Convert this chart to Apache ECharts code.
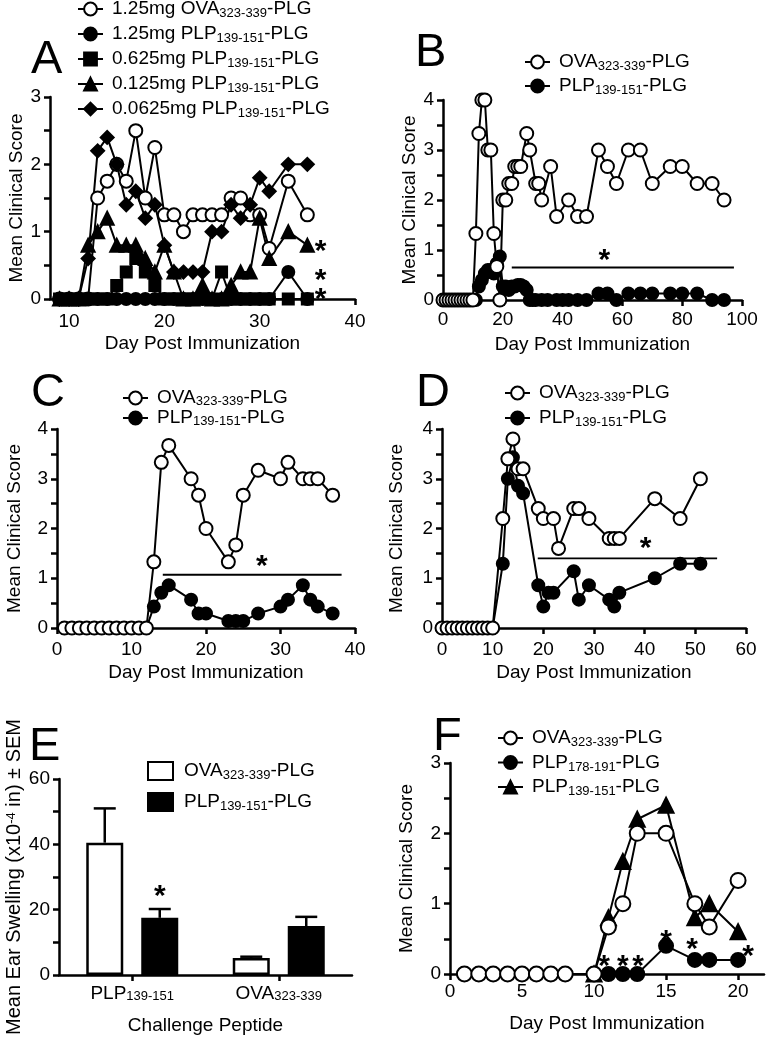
<!DOCTYPE html>
<html>
<head>
<meta charset="utf-8">
<script src="https://cdn.jsdelivr.net/npm/echarts@6/dist/echarts.min.js"></script>
<style>
html, body { margin: 0; padding: 0; background: #fff; }
#chart { width: 769px; height: 1039px; }
</style>
</head>
<body>
<div id="chart"></div>
<script>
var FONT = '"Liberation Sans", Arial, Helvetica, sans-serif';

// ---- A: dose titration ----
var aDays     = [9,10,11,12,13,14,15,16,17,18,19,20,21,22,23,24,25,26,27,28,29,30,31,33,35];
var aOva125   = [0,0,0,0,1.5,1.75,2,1.75,2.5,1.5,2.25,1.25,1.25,1,1.25,1.25,1.25,1.25,1.5,1.5,1.25,1.25,0.75,1.75,1.25];
var aPlp125   = [0,0,0,0,0,0,0,0,0,0,0,0,0,0,0,0,0,0,0,0,0,0,0,0.4,0];
var aPlp0625  = [0,0,0,0,0,0,0.2,0.4,0.6,0.4,0.2,0,0,0,0,0,0,0.4,0,0,0,0,0,0,0];
var aPlp0125  = [0,0,0,0.8,1,1.2,0.8,0.8,0.8,0.6,0.4,0.8,0.4,0,0,0.2,0,0,0.2,0.4,0.4,1.2,0.6,1,0.8];
var aPlp00625 = [0,0,0,0.6,2.2,2.4,2,1.4,1.6,1.2,1.4,0.8,0.4,0.4,0.4,0.4,1,1,1.4,1.2,1.4,1.8,1.6,2,2];
var aLabels = ['1.25mg OVA_323-339_-PLG', '1.25mg PLP_139-151_-PLG', '0.625mg PLP_139-151_-PLG',
               '0.125mg PLP_139-151_-PLG', '0.0625mg PLP_139-151_-PLG'];
var aStars = [[36.4, 0.8], [36.4, 0.38], [36.4, 0.1]];

// ---- B ----
var bDaysOva = [0,1,2,3,4,5,6,7,8,9,10,11,12,13,14,15,16,17,18,19,20,21,22,23,24,25,26,
                28,29,31,32,33,36,38,42,45,48,52,55,58,62,66,70,76,80,85,90,94];
var bOva = [0,0,0,0,0,0,0,0,0,0,0,1.33,3.33,4,4,3,3,1.33,0.67,0,2,2,2.33,2.33,2.67,2.67,2.67,
            3.33,3,2.33,2.33,2,2.67,1.67,2,1.67,1.67,3,2.67,2.33,3,3,2.33,2.67,2.67,2.33,2.33,2];
var bDaysPlp = [0,1,2,3,4,5,6,7,8,9,10,11,12,13,14,15,16,17,18,19,20,21,22,23,24,25,26,27,28,
                29,30,31,33,35,38,40,42,45,48,52,55,58,62,66,70,76,80,85,90,94];
var bPlp = [0,0,0,0,0,0,0,0,0,0,0,0,0.27,0.4,0.53,0.6,0.6,0.53,0.73,0.87,0.27,0.27,0.2,0.27,0.27,0.3,0.3,0.27,0.2,
            0,0,0,0,0,0,0,0,0,0,0.13,0.13,0,0.13,0.13,0.13,0.13,0.13,0.13,0,0];
var bSigLine = [[23, 0.65], [97.3, 0.65]];
var bStars = [[54, 0.92]];

// ---- C ----
var cDays = [1,2,3,4,5,6,7,8,9,10,11,12,13,14,15,18,19,20,23,24,25,27,30,31,33,34,35,37];
var cOva = [0,0,0,0,0,0,0,0,0,0,0,0,1.33,3.33,3.67,3,2.67,2,1.33,1.67,2.67,3.17,3,3.33,3,3,3,2.67];
var cPlp = [0,0,0,0,0,0,0,0,0,0,0,0,0.43,0.71,0.86,0.57,0.29,0.29,0.14,0.14,0.14,0.29,0.43,0.57,0.86,0.57,0.43,0.29];
var cSigLine = [[14.2, 1.07], [38.2, 1.07]];
var cStars = [[27.5, 1.37]];

// ---- D ----
var dDaysOva = [0,1,2,3,4,5,6,7,8,9,10,12,13,14,15,16,19,20,22,23,26,27,29,33,34,35,42,47,51];
var dOva = [0,0,0,0,0,0,0,0,0,0,0,2.2,3.4,3.8,3.2,3.2,2.4,2.2,2.2,1.6,2.4,2.4,2.2,1.8,1.8,1.8,2.6,2.2,3];
var dDaysPlp = [0,1,2,3,4,5,6,7,8,9,10,12,13,14,15,16,19,20,21,22,26,27,29,33,34,35,42,47,51];
var dPlp = [0,0,0,0,0,0,0,0,0,0,0,1.29,3,3.43,2.86,2.71,0.86,0.43,0.71,0.71,1.14,0.57,0.86,0.57,0.43,0.71,1,1.29,1.29];
var dSigLine = [[18.9, 1.4], [54.3, 1.4]];
var dStars = [[40.2, 1.73]];

// ---- E: ear swelling ----
var eCats = ['PLP_139-151_', 'OVA_323-339_'];
var eOva = [40.5, 5.2];
var eOvaSem = [10.5, 0.4];
var ePlp = [17.5, 15];
var ePlpSem = [2.7, 2.8];
var eStar = [true, false];
var eLabels = ['OVA_323-339_-PLG', 'PLP_139-151_-PLG'];

// ---- F ----
var fDaysOva = [1,2,3,4,5,6,7,8,10,11,12,13,15,17,18,20];
var fOva = [0,0,0,0,0,0,0,0,0,0.67,1,2,2,1,0.67,1.33];
var fDays178 = [11,12,13,15,17,18,20];
var fPlp178 = [0,0,0,0.4,0.2,0.2,0.2];
var fDays139 = [10,11,12,13,15,17,18,20];
var fPlp139 = [0,0.8,1.6,2.2,2.4,0.8,1,0.6];
var fLabels = ['OVA_323-339_-PLG', 'PLP_178-191_-PLG', 'PLP_139-151_-PLG'];
var fStars = [[10.7, 0.2], [12, 0.2], [13.05, 0.2], [15, 0.56], [16.8, 0.44], [20.7, 0.34]];

var pairLabels = ['OVA_323-339_-PLG', 'PLP_139-151_-PLG'];

// ---- helpers ----
function rich(s) {
	return s.replace(/_([^_]+)_/g, '{s|$1}');
}
function pairs(xs, ys) {
	return xs.map(function (x, i) { return [x, ys[i]]; });
}
function merge(a, b) {
	var out = {};
	[a, b].forEach(function (src) {
		for (var k in src) {
			if (src[k] && typeof src[k] === 'object' && !Array.isArray(src[k]) && out[k] && typeof out[k] === 'object') {
				out[k] = merge(out[k], src[k]);
			} else {
				out[k] = src[k];
			}
		}
	});
	return out;
}

var RICH = {
	s: {fontSize: 13, lineHeight: 9, verticalAlign: 'bottom', fontFamily: FONT, color: '#000'},
	p: {fontSize: 13, lineHeight: 9, verticalAlign: 'top', fontFamily: FONT, color: '#000'}
};
var LABELS = {};

var SYM = {
	open:    {symbol: 'circle', color: '#fff'},
	dot:     {symbol: 'circle', color: '#000'},
	square:  {symbol: 'rect', color: '#000'},
	tri:     {symbol: 'triangle', color: '#000'},
	diamond: {symbol: 'diamond', color: '#000'}
};

function curve(name, label, panel, xs, ys, kind, size, z) {
	LABELS[name] = rich(label);
	return {
		type: 'line', name: name, xAxisIndex: panel, yAxisIndex: panel,
		data: pairs(xs, ys),
		symbol: SYM[kind].symbol, symbolSize: size, showAllSymbol: true,
		itemStyle: {color: SYM[kind].color, borderColor: '#000', borderWidth: 2},
		lineStyle: {color: '#000', width: 2},
		z: z || 2, silent: true
	};
}
function sigLine(panel, pts) {
	return {type: 'line', xAxisIndex: panel, yAxisIndex: panel, data: pts, symbol: 'none',
		lineStyle: {color: '#000', width: 1.8}, silent: true, z: 1};
}
// asterisks drawn through the axes of their panel
function stars(panel, pts) {
	return {
		type: 'custom', xAxisIndex: panel, yAxisIndex: panel, data: pts, silent: true, z: 6,
		renderItem: function (params, api) {
			var p = api.coord([api.value(0), api.value(1)]);
			return {type: 'text', x: p[0], y: p[1] + 7, style: {text: '*', fontSize: 30, fontWeight: 'bold',
				fontFamily: FONT, fill: '#000', textAlign: 'center', textVerticalAlign: 'middle'}};
		}
	};
}
function legendFor(names, left, top, gap, lh) {
	return {
		data: names, left: left, top: top, orient: 'vertical', itemGap: gap,
		itemWidth: 25, itemHeight: 16, selectedMode: false, padding: 0,
		formatter: function (n) { return LABELS[n]; },
		textStyle: {fontFamily: FONT, fontSize: 19, color: '#000', lineHeight: lh, padding: [0, 0, 0, 4], rich: RICH}
	};
}

var AXIS = {
	type: 'value',
	axisLine: {show: true, onZero: false, lineStyle: {color: '#000', width: 2.5}},
	axisTick: {show: true, length: 6, lineStyle: {color: '#000', width: 2.5}},
	axisLabel: {color: '#000', fontFamily: FONT, fontSize: 19, margin: 10},
	splitLine: {show: false},
	nameLocation: 'middle',
	nameTextStyle: {color: '#000', fontFamily: FONT, fontSize: 19, rich: RICH}
};
function intLabel(v) { return v % 1 === 0 ? String(v) : ''; }

function xDay(grid, min, max, opt) {
	return merge(AXIS, merge({gridIndex: grid, min: min, max: max, name: 'Day Post Immunization', nameGap: 35}, opt));
}
function yScore(grid, max, gap) {
	return merge(AXIS, {gridIndex: grid, min: 0, max: max, interval: 0.5, name: 'Mean Clinical Score',
		nameGap: gap, axisLabel: {formatter: intLabel, margin: 9}});
}

// ---- series ----
var series = [
	curve('A0', aLabels[0], 0, aDays, aOva125, 'open', 13),
	curve('A1', aLabels[1], 0, aDays, aPlp125, 'dot', 12),
	curve('A2', aLabels[2], 0, aDays, aPlp0625, 'square', 11),
	curve('A3', aLabels[3], 0, aDays, aPlp0125, 'tri', 13),
	curve('A4', aLabels[4], 0, aDays, aPlp00625, 'diamond', 13),
	stars(0, aStars),

	curve('B0', pairLabels[0], 1, bDaysOva, bOva, 'open', 13, 3),
	curve('B1', pairLabels[1], 1, bDaysPlp, bPlp, 'dot', 12, 2),
	sigLine(1, bSigLine), stars(1, bStars),

	curve('C0', pairLabels[0], 2, cDays, cOva, 'open', 13, 3),
	curve('C1', pairLabels[1], 2, cDays, cPlp, 'dot', 12, 2),
	sigLine(2, cSigLine), stars(2, cStars),

	curve('D0', pairLabels[0], 3, dDaysOva, dOva, 'open', 13, 3),
	curve('D1', pairLabels[1], 3, dDaysPlp, dPlp, 'dot', 12, 2),
	sigLine(3, dSigLine), stars(3, dStars),

	curve('F0', fLabels[0], 5, fDaysOva, fOva, 'open', 15, 3),
	curve('F1', fLabels[1], 5, fDays178, fPlp178, 'dot', 14, 2),
	curve('F2', fLabels[2], 5, fDays139, fPlp139, 'tri', 15, 2),
	stars(5, fStars)
];

// E bars with error bars
var BAR_W = 37, BAR_GAP = 18;
LABELS.E0 = rich(eLabels[0]);
LABELS.E1 = rich(eLabels[1]);
series.push({
	type: 'bar', name: 'E0', xAxisIndex: 4, yAxisIndex: 4, data: eOva,
	barWidth: BAR_W, barGap: (BAR_GAP / BAR_W * 100) + '%',
	itemStyle: {color: '#fff', borderColor: '#000', borderWidth: 2.5}, silent: true
});
series.push({
	type: 'bar', name: 'E1', xAxisIndex: 4, yAxisIndex: 4,
	data: ePlp.map(function (v, i) {
		return eStar[i] ? {value: v, label: {show: true, position: 'top', distance: 6, formatter: '*',
			fontSize: 30, fontWeight: 'bold', color: '#000', fontFamily: FONT}} : v;
	}),
	barWidth: BAR_W, itemStyle: {color: '#000', borderColor: '#000', borderWidth: 2.5}, silent: true
});
function errorBars(means, sems, shift) {
	return {
		type: 'custom', xAxisIndex: 4, yAxisIndex: 4, silent: true, z: 3,
		data: means.map(function (m, i) { return [i, m, m + sems[i]]; }),
		renderItem: function (params, api) {
			var base = api.coord([api.value(0), api.value(1)]);
			var top = api.coord([api.value(0), api.value(2)]);
			var cx = base[0] + shift;
			var st = {stroke: '#000', lineWidth: 2.5};
			return {type: 'group', children: [
				{type: 'line', shape: {x1: cx, y1: base[1], x2: cx, y2: top[1]}, style: st},
				{type: 'line', shape: {x1: cx - 11, y1: top[1], x2: cx + 11, y2: top[1]}, style: st}
			]};
		}
	};
}
series.push(errorBars(eOva, eOvaSem, -(BAR_W + BAR_GAP) / 2));
series.push(errorBars(ePlp, ePlpSem, (BAR_W + BAR_GAP) / 2));

var grids = [
	{left: 50, top: 97, width: 305, height: 202},
	{left: 443, top: 100, width: 299, height: 200},
	{left: 57, top: 429, width: 298, height: 199},
	{left: 442, top: 429, width: 304, height: 199},
	{left: 59, top: 779, width: 293, height: 196},
	{left: 450, top: 763, width: 314, height: 211}
].map(function (g) { g.outerBoundsMode = 'none'; g.containLabel = false; return g; });

var xAxes = [
	xDay(0, 8, 40, {axisLabel: {margin: 13, customValues: [10, 20, 30, 40]}, axisTick: {customValues: [10, 20, 30, 40]}}),
	xDay(1, 0, 100, {interval: 20}),
	xDay(2, 0, 40, {interval: 10, axisLabel: {margin: 12}}),
	xDay(3, 0, 60, {interval: 10, axisLabel: {margin: 12}}),
	merge(AXIS, {type: 'category', gridIndex: 4, data: eCats, name: 'Challenge Peptide', nameGap: 41,
		axisTick: {alignWithLabel: true},
		axisLabel: {margin: 9, interval: 0, formatter: function (v) { return rich(v); }, rich: RICH}}),
	xDay(5, 0, 21.8, {nameGap: 40, axisLabel: {margin: 8, customValues: [0, 5, 10, 15, 20]},
		axisTick: {customValues: [0, 5, 10, 15, 20]}})
];
var yAxes = [
	yScore(0, 3, 23),
	yScore(1, 4, 23),
	yScore(2, 4, 33),
	yScore(3, 4, 36),
	merge(AXIS, {gridIndex: 4, min: 0, max: 60, interval: 10, nameGap: 33,
		name: 'Mean Ear Swelling (x10{p|-4} in) \u00b1 SEM',
		nameTextStyle: {fontSize: 20, padding: [0, 0, 0, 0]},
		axisLabel: {margin: 9, formatter: function (v) { return v % 20 === 0 ? String(v) : ''; }}}),
	yScore(5, 3, 34)
];

var legends = [
	legendFor(['A0', 'A1', 'A2', 'A3', 'A4'], 77, -2, 3, 22),
	legendFor(['B0', 'B1'], 524, 51, 2, 22),
	legendFor(['C0', 'C1'], 122, 388, 0, 20),
	legendFor(['D0', 'D1'], 504, 382, 3, 22),
	merge(legendFor(['E0', 'E1'], 147, 760, 9, 22), {icon: 'rect', itemWidth: 25, itemHeight: 18,
		textStyle: {padding: [0, 0, 0, 6]}}),
	legendFor(['F0', 'F1', 'F2'], 497, 727, 2.5, 22)
];

var panelLetters = [['A', 31, 60], ['B', 415, 53], ['C', 31, 393], ['D', 416, 393], ['E', 29, 747], ['F', 433, 737]];

var chart = echarts.init(document.getElementById('chart'));
chart.setOption({
	animation: false,
	backgroundColor: '#fff',
	grid: grids,
	xAxis: xAxes,
	yAxis: yAxes,
	legend: legends,
	series: series,
	graphic: panelLetters.map(function (p) {
		return {type: 'text', x: p[1], y: p[2], silent: true,
			style: {text: p[0], fontSize: 47, fontFamily: FONT, fill: '#000', textAlign: 'left', textVerticalAlign: 'middle'}};
	})
});
</script>
</body>
</html>
